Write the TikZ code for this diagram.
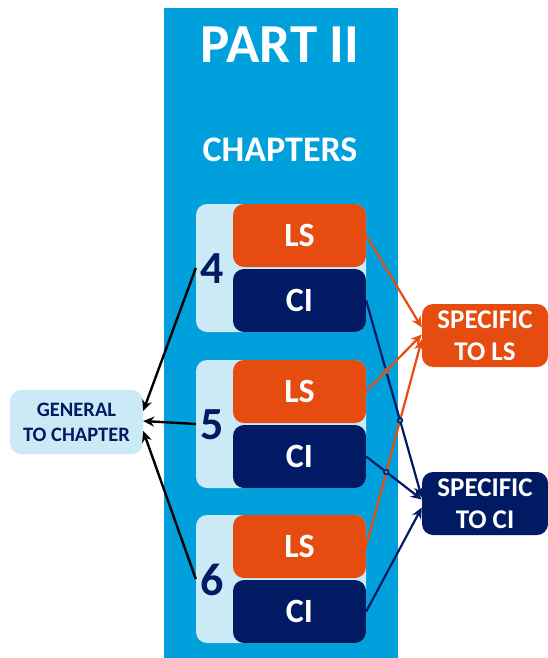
\documentclass[tikz,border=0pt]{standalone}
\usepackage{fontspec}
\setmainfont{Carlito}
\usetikzlibrary{arrows.meta,intersections}
\definecolor{partblue}{RGB}{0,160,220}
\definecolor{paleblue}{RGB}{204,233,246}
\definecolor{lsorange}{RGB}{230,76,15}
\definecolor{cinavy}{RGB}{0,27,100}
\begin{document}
\begin{tikzpicture}[x=1pt,y=-1pt,
  chapbox/.style={fill=paleblue, rounded corners=11pt, minimum width=170pt, minimum height=128pt, inner sep=0pt},
  lsbox/.style={fill=lsorange, rounded corners=11pt, minimum width=133pt, minimum height=63pt, inner sep=0pt,
    text=white, font=\bfseries\fontsize{34}{34}\selectfont},
  cibox/.style={lsbox, fill=cinavy},
  chapnum/.style={text=cinavy, font=\bfseries\fontsize{46}{46}\selectfont, inner sep=0pt},
  genbox/.style={fill=paleblue, rounded corners=11pt, minimum width=133pt, minimum height=64pt, inner sep=0pt,
    text=cinavy, align=center, font=\bfseries\fontsize{20.5}{25}\selectfont},
  specbox/.style={rounded corners=11pt, minimum width=126pt, minimum height=63pt, inner sep=0pt,
    text=white, align=center, font=\bfseries\fontsize{27}{32}\selectfont},
  toGeneral/.style={draw=black, line width=2.4pt, -{Stealth[length=11pt,width=10pt]}},
  toLS/.style={draw=lsorange, line width=2.2pt, -{Stealth[length=11pt,width=10pt]}},
  toCI/.style={draw=cinavy, line width=2.2pt, -{Stealth[length=11pt,width=10pt]}},
  hop/.style={line width=1.4pt, fill=partblue}]
\useasboundingbox (0,0) rectangle (548,658);

% Part column
\fill[partblue] (164,8) rectangle (398,658);
\node[text=white, font=\bfseries\fontsize{55}{55}\selectfont] (part) at (280,45) {PART II};
\node[text=white, font=\bfseries\fontsize{36}{36}\selectfont] (chapters) at (280,150) {CHAPTERS};

% Chapter groups: pale backing, chapter number, LS and CI blocks
\foreach \n/\t in {4/204, 5/360, 6/515} {
  \node[chapbox] (ch\n) at (281,\t+64) {};
  \node[lsbox] (ls\n) at (299.5,\t+31.5) {LS};
  \node[cibox] (ci\n) at (299.5,\t+96.5) {CI};
  \node[chapnum] (n\n) at (212,\t+65) {\n};
}

% Side labels
\node[genbox] (gen) at (76.5,422) {GENERAL\\TO CHAPTER};
\node[specbox, fill=lsorange] (sls) at (485,335.5) {SPECIFIC\\TO LS};
\node[specbox, fill=cinavy] (sci) at (485,503.5) {SPECIFIC\\TO CI};

% Connectors
\draw[toGeneral] (ch4.west) -- ([yshift=11pt]gen.east);
\draw[toGeneral] (ch5.west) -- ([yshift=1pt]gen.east);
\draw[toGeneral] (ch6.west) -- ([yshift=-9pt]gen.east);

\draw[toLS, name path=lsA] (ls4.east) -- ([yshift=8pt]sls.west);
\draw[toLS, name path=lsB] (ls5.east) -- ([yshift=1pt]sls.west);
\draw[toLS, name path=lsC] (ls6.east) -- ([yshift=-4pt]sls.west);

\draw[toCI, name path=ciA] (ci4.east) -- ([yshift=6pt]sci.west);
\draw[toCI, name path=ciB] (ci5.east) -- ([yshift=4pt]sci.west);
\draw[toCI] (ci6.east) -- ([yshift=-4pt]sci.west);

% Line hops where connectors cross
\path[name intersections={of=ciA and lsB, by=hopA}];
\path[name intersections={of=ciA and lsC, by=hopB}];
\path[name intersections={of=ciB and lsC, by=hopC}];
\draw[hop, draw=lsorange] (hopA) circle (2.4pt);
\draw[hop, draw=cinavy] (hopB) circle (2.4pt);
\draw[hop, draw=cinavy] (hopC) circle (2.4pt);
\end{tikzpicture}
\end{document}
